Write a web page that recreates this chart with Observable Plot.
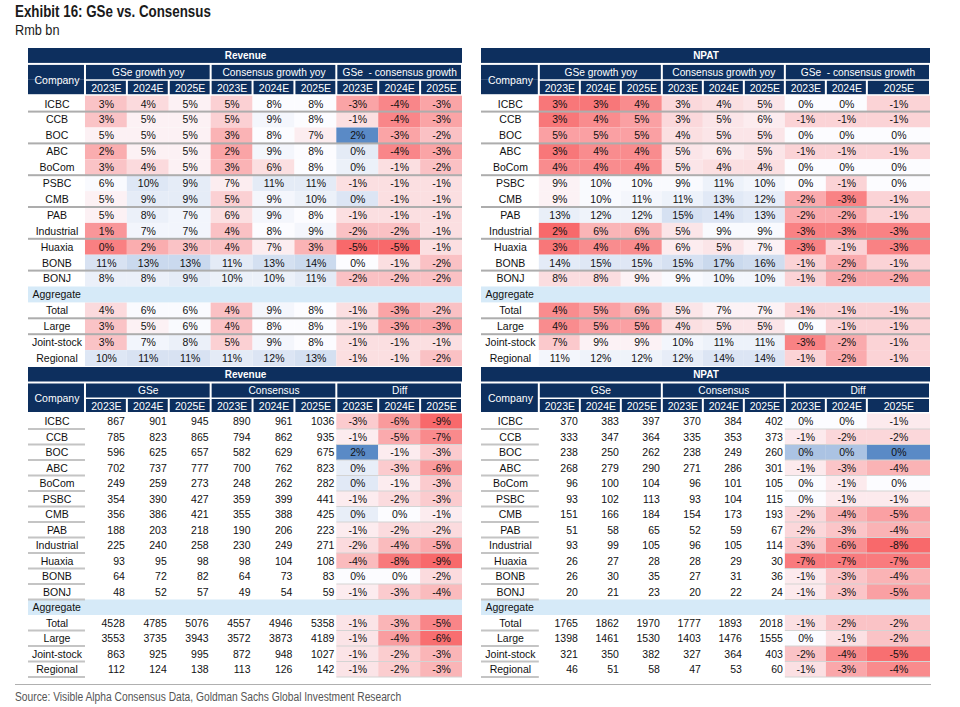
<!DOCTYPE html>
<html>
<head>
<meta charset="utf-8">
<script src="https://cdn.jsdelivr.net/npm/d3@7"></script>
<script src="https://cdn.jsdelivr.net/npm/@observablehq/plot@0.6"></script>
<style>
  body { margin: 0; background: #fff; }
  #root { position: relative; width: 960px; height: 707px; overflow: hidden; font-family: "Liberation Sans", Arial, sans-serif; }
  .narrow { font-family: "Liberation Sans", Arial, sans-serif; transform: scaleX(0.82); transform-origin: 0 0; }
  #title { position: absolute; left: 15px; top: 2px; font-weight: bold; font-size: 16.3px; color: #1a1a1a; white-space: nowrap; }
  #subtitle { position: absolute; left: 15px; top: 21px; font-size: 15.5px; color: #1a1a1a; white-space: nowrap; }
  #rule { position: absolute; left: 15px; top: 684px; width: 916px; height: 0; border-top: 1.5px solid #b0b0b0; }
  #source { position: absolute; left: 15px; top: 690px; font-size: 12.5px; color: #555; white-space: nowrap; }
  .tbl { position: absolute; }
  .tbl svg { display: block; }
</style>
</head>
<body>
<div id="root">
  <div id="title" class="narrow">Exhibit 16: GSe vs. Consensus</div>
  <div id="subtitle" class="narrow">Rmb bn</div>
  <div id="tl" class="tbl" style="left:28px; top:48px;"></div>
  <div id="tr" class="tbl" style="left:481px; top:48px;"></div>
  <div id="bl" class="tbl" style="left:28px; top:367px;"></div>
  <div id="br" class="tbl" style="left:481px; top:367px;"></div>
  <div id="rule"></div>
  <div id="source" class="narrow">Source: Visible Alpha Consensus Data, Goldman Sachs Global Investment Research</div>
</div>
<script>
// ---------------- DATA ----------------
const companies = ["ICBC", "CCB", "BOC", "ABC", "BoCom", "PSBC", "CMB", "PAB", "Industrial", "Huaxia", "BONB", "BONJ"];
const aggregates = ["Total", "Large", "Joint-stock", "Regional"];
const years = ["2023E", "2024E", "2025E"];
const growthGroups = ["GSe growth yoy", "Consensus growth yoy", "GSe\u00a0 - consensus growth"];
const levelGroups = ["GSe", "Consensus", "Diff"];

// Revenue growth yoy (%), rows: companies then aggregates
const revGrowthGSe = [[3,4,5],[3,5,5],[5,5,5],[2,5,5],[3,4,5],[6,10,9],[5,9,9],[5,8,7],[1,7,7],[0,2,3],[11,13,13],[8,8,9],[4,6,6],[3,5,6],[3,7,8],[10,11,11]];
const revGrowthCons = [[5,8,8],[5,9,8],[3,8,7],[2,9,8],[3,6,8],[7,11,11],[5,9,10],[6,9,8],[4,8,9],[4,7,3],[11,13,14],[10,10,11],[4,9,8],[4,8,8],[5,9,8],[11,12,13]];
const revGrowthDiff = [[-3,-4,-3],[-1,-4,-3],[2,-3,-2],[0.3,-4,-3],[0.2,-1,-2],[-1,-1,-1],[0.4,-1,-1],[-1,-1,-1],[-2,-2,-1],[-5,-5,-1],[0,-1,-2],[-2,-2,-2],[-1,-3,-2],[-1,-3,-3],[-1,-1,-1],[-1,-1,-2]];

// NPAT growth yoy (%)
const npatGrowthGSe = [[3,3,4],[3,4,5],[5,5,5],[3,4,4],[4,4,4],[9,10,10],[9,10,11],[13,12,12],[2,6,6],[3,4,4],[14,15,15],[8,8,9],[4,5,6],[4,5,5],[7,9,9],[11,12,12]];
const npatGrowthCons = [[3,4,5],[3,5,6],[4,5,5],[5,6,5],[5,4,4],[9,11,10],[11,13,12],[15,14,13],[5,9,9],[6,5,7],[15,17,16],[9,10,10],[5,7,7],[4,5,5],[10,11,11],[12,14,14]];
const npatGrowthDiff = [[0,0,-1],[-1,-1,-1],[0,0,0],[-1,-1,-1],[0,0,0],[0,-1,0],[-2,-3,-1],[-2,-2,-1],[-3,-3,-3],[-3,-1,-3],[-1,-2,-1],[-1,-2,-2],[-1,-1,-1],[0,-1,-1],[-3,-2,-1],[-1,-2,-1]];

// Revenue (Rmb bn)
const revGSe = [[867,901,945],[785,823,865],[596,625,657],[702,737,777],[249,259,273],[354,390,427],[356,386,421],[188,203,218],[225,240,258],[93,95,98],[64,72,82],[48,52,57],[4528,4785,5076],[3553,3735,3943],[863,925,995],[112,124,138]];
const revCons = [[890,961,1036],[794,862,935],[582,629,675],[700,762,823],[248,262,282],[359,399,441],[355,388,425],[190,206,223],[230,249,271],[98,104,108],[64,73,83],[49,54,59],[4557,4946,5358],[3572,3873,4189],[872,948,1027],[113,126,142]];
const revDiff = [[-3,-6,-9],[-1,-5,-7],[2.4,-1,-3],[0.3,-3,-6],[0.4,-1,-3],[-1,-2,-3],[0.3,0,-1],[-1,-2,-2],[-2,-4,-5],[-4,-8,-9],[0,0,-2],[-1,-3,-4],[-1,-3,-5],[-1,-4,-6],[-1,-2,-3],[-1,-2,-3]];

// NPAT (Rmb bn)
const npatGSe = [[370,383,397],[333,347,364],[238,250,262],[268,279,290],[96,100,104],[93,102,113],[151,166,184],[51,58,65],[93,99,105],[26,27,28],[26,30,35],[20,21,23],[1765,1862,1970],[1398,1461,1530],[321,350,382],[46,51,58]];
const npatCons = [[370,384,402],[335,353,373],[238,249,260],[271,286,301],[96,101,105],[93,104,115],[154,173,193],[52,59,67],[96,105,114],[28,29,30],[27,31,36],[20,22,24],[1777,1893,2018],[1403,1476,1555],[327,364,403],[47,53,60]];
const npatDiff = [[0,0,-1],[-1,-2,-2],[0.2,0.2,0.4],[-1,-3,-4],[0,-1,0],[0,-1,-1],[-2,-4,-5],[-2,-3,-4],[-3,-6,-8],[-7,-7,-7],[-1,-3,-4],[-1,-3,-5],[-1,-2,-2],[0,-1,-2],[-2,-4,-5],[-1,-3,-4]];

// ---------------- STYLE ----------------
const NAVY = "#0D2F5E";
const AGG_FILL = "#D6EAF8";
const FONT = "Liberation Sans, Arial, sans-serif";
const shade = {
  revGrowth:  { gse: {lo: -1, mid: 5.5, hi: 30}, cons: {lo: -2, mid: 8, hi: 28}, diff: {lo: -5, mid: 0, hi: 2} },
  npatGrowth: { gse: {lo: 2.3, mid: 9.5, hi: 40}, cons: {lo: -14, mid: 8.5, hi: 36}, diff: {lo: -3.6, mid: 0, hi: 2} },
  revLevel:   { diff: {lo: -9, mid: 0, hi: 2.4}, diffAgg: {lo: -6.2, mid: 0, hi: 2} },
  npatLevel:  { diff: {lo: -8, mid: 0, hi: 0.4}, diffAgg: {lo: -5.2, mid: 0, hi: 1} }
};
const topLineRows = ["ICBC", "BOC", "BoCom", "CMB", "Industrial", "BONB", "Total", "Large"];

function scoreOf(v, s) {
  if (v < s.mid) return -Math.min(1, (s.mid - v) / (s.mid - s.lo));
  return Math.min(1, (v - s.mid) / (s.hi - s.mid));
}

function makeTable(o) {
  const total = o.cw + 8 + o.wl;
  const colX1 = c => c === 0 ? 0 : o.cw + c - 1;
  const colX2 = c => c === 0 ? o.cw : (c === 9 ? total : o.cw + c);
  const rowKeys = ["title", "group", "year", ...companies, "Aggregate", ...aggregates];
  const bw = o.height / rowKeys.length;
  const dataRows = [...companies, ...aggregates];
  const keys = ["gse", "cons", "diff"];
  const cells = [];
  dataRows.forEach((name, r) => {
    const isAgg = r >= companies.length;
    [o.gse, o.cons, o.diff].forEach((block, b) => {
      block[r].forEach((v, j) => {
        const c = 1 + b * 3 + j;
        const k = keys[b];
        const s = (isAgg && o.shade[k + "Agg"]) ? o.shade[k + "Agg"] : o.shade[k];
        const isPct = !o.level || b === 2;
        cells.push({
          row: name, x1: colX1(c), x2: colX2(c), b,
          score: s ? scoreOf(v, s) : null,
          label: isPct ? `${Math.round(v)}%` : `${v}`,
          right: o.level && b < 2
        });
      });
    });
  });

  const titleCell = [{row: "title", x1: 0, x2: total, label: o.title}];
  const compHeadTop = [{row: "group", x1: 0, x2: o.cw}];
  const compHeadBot = [{row: "year", x1: 0, x2: o.cw}];
  const groupCells = [0, 1, 2].map(b => ({row: "group", x1: colX1(1 + b * 3), x2: colX2(3 + b * 3), label: o.groups[b]}));
  const yearCells = d3.range(1, 10).map(c => ({row: "year", x1: colX1(c), x2: colX2(c), label: years[(c - 1) % 3]}));
  const aggBand = [{row: "Aggregate", x1: 0, x2: total}];

  let lines, thin = [];
  if (!o.level) {
    lines = topLineRows.map(r => ({row: r, x1: 0, x2: total}));
  } else {
    lines = dataRows.map(r => ({row: r, x1: 0, x2: o.cw}));
    thin = dataRows.map(r => ({row: r, x1: colX1(7), x2: total}));
  }
  const mid = d => (d.x1 + d.x2) / 2;

  return Plot.plot({
    width: o.width, height: o.height,
    marginTop: 0, marginRight: 0, marginBottom: 0, marginLeft: 0,
    x: {domain: [0, total], axis: null},
    y: {type: "band", domain: rowKeys, padding: 0, round: false, axis: null},
    color: {type: "linear", domain: [-1, 0, 1], range: ["#F8696B", "#FCFCFF", "#5A8AC6"], clamp: true},
    style: {fontFamily: FONT, background: "white", overflow: "visible"},
    marks: [
      Plot.barX(cells.filter(d => d.score !== null), {x1: "x1", x2: "x2", y: "row", fill: "score"}),
      Plot.barX(aggBand, {x1: "x1", x2: "x2", y: "row", fill: AGG_FILL}),
      Plot.barX(thin, {x1: "x1", x2: "x2", y: "row", fill: "#d4d4d4", insetTop: bw - 0.5, insetBottom: -0.5}),
      Plot.barX(lines, {x1: "x1", x2: "x2", y: "row", fill: o.level ? "#c4c4c4" : "#adadad", insetTop: bw - 1, insetBottom: -1}),
      Plot.barX(titleCell, {x1: "x1", x2: "x2", y: "row", fill: NAVY, insetBottom: 1}),
      Plot.barX(compHeadTop, {x1: "x1", x2: "x2", y: "row", fill: NAVY, insetTop: 1, insetRight: 1}),
      Plot.barX(compHeadBot, {x1: "x1", x2: "x2", y: "row", fill: NAVY, insetRight: 1, insetBottom: 1.5}),
      Plot.barX(groupCells, {x1: "x1", x2: "x2", y: "row", fill: NAVY, insetTop: 1, insetLeft: 1, insetRight: 1, insetBottom: 0.5}),
      Plot.barX(yearCells, {x1: "x1", x2: "x2", y: "row", fill: NAVY, insetTop: 1, insetLeft: 1, insetRight: 1, insetBottom: 1.5}),
      Plot.text(titleCell, {x: mid, y: "row", text: "label", fill: "white", fontWeight: "bold", fontSize: 10, dy: -0.5}),
      Plot.text(groupCells, {x: mid, y: "row", text: "label", fill: "white", fontSize: 10.2}),
      Plot.text(yearCells, {x: mid, y: "row", text: "label", fill: "white", fontSize: 10.5}),
      Plot.text(compHeadTop, {x: mid, y: "row", text: () => "Company", fill: "white", fontSize: 10.5, dy: bw / 2}),
      Plot.text(dataRows, {x: () => o.cw / 2, y: d => d, text: d => d, fill: "#111", fontSize: 10.5}),
      Plot.text(aggBand, {x: "x1", y: "row", text: () => "Aggregate", fill: "#111", fontSize: 10.5, textAnchor: "start", dx: 4}),
      Plot.text(cells.filter(d => !d.right), {x: mid, y: "row", text: "label", fill: "#111", fontSize: 10.5}),
      Plot.text(cells.filter(d => d.right), {x: "x2", y: "row", text: "label", fill: "#111", fontSize: 10.5, textAnchor: "end", dx: -2.5})
    ]
  });
}

document.getElementById("tl").append(makeTable({
  title: "Revenue", groups: growthGroups, gse: revGrowthGSe, cons: revGrowthCons, diff: revGrowthDiff,
  shade: shade.revGrowth, level: false, cw: 1.36, wl: 1, width: 434, height: 318
}));
document.getElementById("tr").append(makeTable({
  title: "NPAT", groups: growthGroups, gse: npatGrowthGSe, cons: npatGrowthCons, diff: npatGrowthDiff,
  shade: shade.npatGrowth, level: false, cw: 1.41, wl: 1.54, width: 449, height: 318
}));
document.getElementById("bl").append(makeTable({
  title: "Revenue", groups: levelGroups, gse: revGSe, cons: revCons, diff: revDiff,
  shade: shade.revLevel, level: true, cw: 1.36, wl: 1, width: 434, height: 310
}));
document.getElementById("br").append(makeTable({
  title: "NPAT", groups: levelGroups, gse: npatGSe, cons: npatCons, diff: npatDiff,
  shade: shade.npatLevel, level: true, cw: 1.41, wl: 1.54, width: 449, height: 310
}));
</script>
</body>
</html>
